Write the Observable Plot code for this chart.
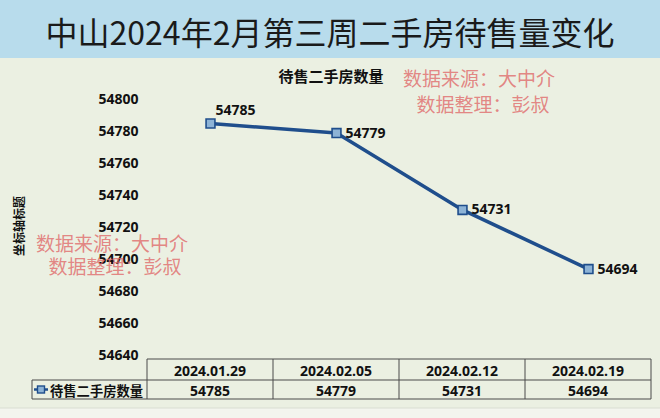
<!DOCTYPE html>
<html>
<head>
<meta charset="utf-8">
<script src="https://cdn.jsdelivr.net/npm/d3@7"></script>
<script src="https://cdn.jsdelivr.net/npm/@observablehq/plot@0.6"></script>
<style>
  html, body { margin: 0; padding: 0; background: #ebf0e2; }
  #wrap { width: 660px; height: 418px; overflow: hidden; }
  #title {
    height: 58px; background: #b8dcec; text-align: center;
    font-family: "Noto Sans CJK SC", sans-serif; font-size: 32px; line-height: 62px;
    color: #1a1a1a; letter-spacing: 0px;
  }
  #chart svg { display: block; }
</style>
</head>
<body>
<div id="wrap">
  <div id="title">中山2024年2月第三周二手房待售量变化</div>
  <div id="chart"></div>
</div>
<script>
const titleText = "中山2024年2月第三周二手房待售量变化";
const seriesName = "待售二手房数量";
const dates = ["2024.01.29", "2024.02.05", "2024.02.12", "2024.02.19"];
const values = [54785, 54779, 54731, 54694];
const yTicks = [54640, 54660, 54680, 54700, 54720, 54740, 54760, 54780, 54800];
const yTitle = "坐标轴标题";
const watermark1 = "数据来源：大中介";
const watermark2 = "数据整理：彭叔";

document.getElementById("title").textContent = titleText;

const data = dates.map((d, i) => ({date: d, value: values[i]}));
const numFont = "'Open Sans', 'Noto Sans CJK SC', sans-serif";
const cjkFont = "'Noto Sans CJK SC', sans-serif";
const lineColor = "#1f4e8c";

const chart = Plot.plot({
  width: 660,
  height: 360,
  marginLeft: 146,
  marginRight: 9,
  marginTop: 41,
  marginBottom: 63,
  style: {background: "#ebf0e2", fontFamily: numFont, color: "#111"},
  x: {type: "band", domain: dates, padding: 0, axis: null},
  y: {domain: [54640, 54800], axis: null},
  marks: [
    Plot.axisY({ticks: yTicks, tickSize: 0, tickPadding: 8, tickFormat: d => String(d), label: null,
      fontSize: 14, fontWeight: 700, fontFamily: numFont, fill: "#111"}),
    Plot.line(data, {x: "date", y: "value", stroke: lineColor, strokeWidth: 3.5}),
    Plot.dot(data, {x: "date", y: "value", symbol: "square", r: 5, fill: "#8db3d6", stroke: lineColor, strokeWidth: 1.6}),
    Plot.text(data.slice(0, 1), {x: "date", y: "value", text: d => String(d.value), textAnchor: "start",
      dx: 5, dy: -13, fontSize: 14, fontWeight: 700, fontFamily: numFont, fill: "#111"}),
    Plot.text(data.slice(1), {x: "date", y: "value", text: d => String(d.value), textAnchor: "start",
      dx: 9, dy: 0, fontSize: 14, fontWeight: 700, fontFamily: numFont, fill: "#111"})
  ]
});

const svg = d3.select(chart);
const xs = chart.scale("x");
const bw = xs.bandwidth;
const x0 = xs.apply(dates[0]);
const x1 = xs.apply(dates[dates.length - 1]) + bw;

// bottom light strip
svg.insert("rect", ":first-child").attr("x", 0).attr("y", 350).attr("width", 660).attr("height", 10).attr("fill", "#f3f5ee");
svg.append("line").attr("x1", 0).attr("x2", 660).attr("y1", 350).attr("y2", 350).attr("stroke", "#d9ded2");

// chart subtitle
svg.append("text").attr("x", 331).attr("y", 17).attr("text-anchor", "middle").attr("dominant-baseline", "central")
  .attr("font-family", cjkFont).attr("font-size", 15).attr("font-weight", 700).attr("fill", "#111").text(seriesName);

// y axis title
svg.append("text").attr("transform", "translate(18,168) rotate(-90)").attr("text-anchor", "middle").attr("dominant-baseline", "central")
  .attr("font-family", cjkFont).attr("font-size", 12).attr("font-weight", 700).attr("fill", "#111").text(yTitle);

// data table
const tTop = 301, tMid = 322, tBot = 341, legLeft = 32;
const g = svg.append("g").attr("stroke", "#4a4a4a").attr("stroke-width", 1).attr("fill", "none");
g.append("line").attr("x1", x0).attr("x2", x1).attr("y1", tTop).attr("y2", tTop);
g.append("line").attr("x1", legLeft).attr("x2", x1).attr("y1", tMid).attr("y2", tMid);
g.append("line").attr("x1", legLeft).attr("x2", x1).attr("y1", tBot).attr("y2", tBot);
g.append("line").attr("x1", legLeft).attr("x2", legLeft).attr("y1", tMid).attr("y2", tBot);
dates.forEach(d => {
  g.append("line").attr("x1", xs.apply(d)).attr("x2", xs.apply(d)).attr("y1", tTop).attr("y2", tBot);
});
g.append("line").attr("x1", x1).attr("x2", x1).attr("y1", tTop).attr("y2", tBot);

dates.forEach((d, i) => {
  const cx = xs.apply(d) + bw / 2;
  svg.append("text").attr("x", cx).attr("y", (tTop + tMid) / 2 + 1).attr("text-anchor", "middle").attr("dominant-baseline", "central")
    .attr("font-family", numFont).attr("font-size", 14).attr("font-weight", 700).attr("fill", "#111").text(d);
  svg.append("text").attr("x", cx).attr("y", (tMid + tBot) / 2 + 1).attr("text-anchor", "middle").attr("dominant-baseline", "central")
    .attr("font-family", numFont).attr("font-size", 14).attr("font-weight", 700).attr("fill", "#111").text(String(values[i]));
});
// legend key in table
const ly = (tMid + tBot) / 2;
svg.append("line").attr("x1", 34).attr("x2", 48).attr("y1", ly).attr("y2", ly).attr("stroke", lineColor).attr("stroke-width", 2.5);
svg.append("rect").attr("x", 37.5).attr("y", ly - 3.5).attr("width", 7).attr("height", 7).attr("fill", "#8db3d6").attr("stroke", lineColor).attr("stroke-width", 1.4);
svg.append("text").attr("x", 50).attr("y", ly + 1).attr("text-anchor", "start").attr("dominant-baseline", "central")
  .attr("font-family", cjkFont).attr("font-size", 13.3).attr("font-weight", 700).attr("fill", "#111").text(seriesName);

// watermarks
const wm = [
  {t: watermark1, x: 479, y: 19}, {t: watermark2, x: 483, y: 45},
  {t: watermark1, x: 112, y: 184}, {t: watermark2, x: 115, y: 207}
];
wm.forEach(w => {
  svg.append("text").attr("x", w.x).attr("y", w.y).attr("text-anchor", "middle").attr("dominant-baseline", "central")
    .attr("font-family", cjkFont).attr("font-size", 19).attr("fill", "#e06a6a").attr("fill-opacity", 0.8).text(w.t);
});

document.getElementById("chart").appendChild(chart);
</script>
</body>
</html>
